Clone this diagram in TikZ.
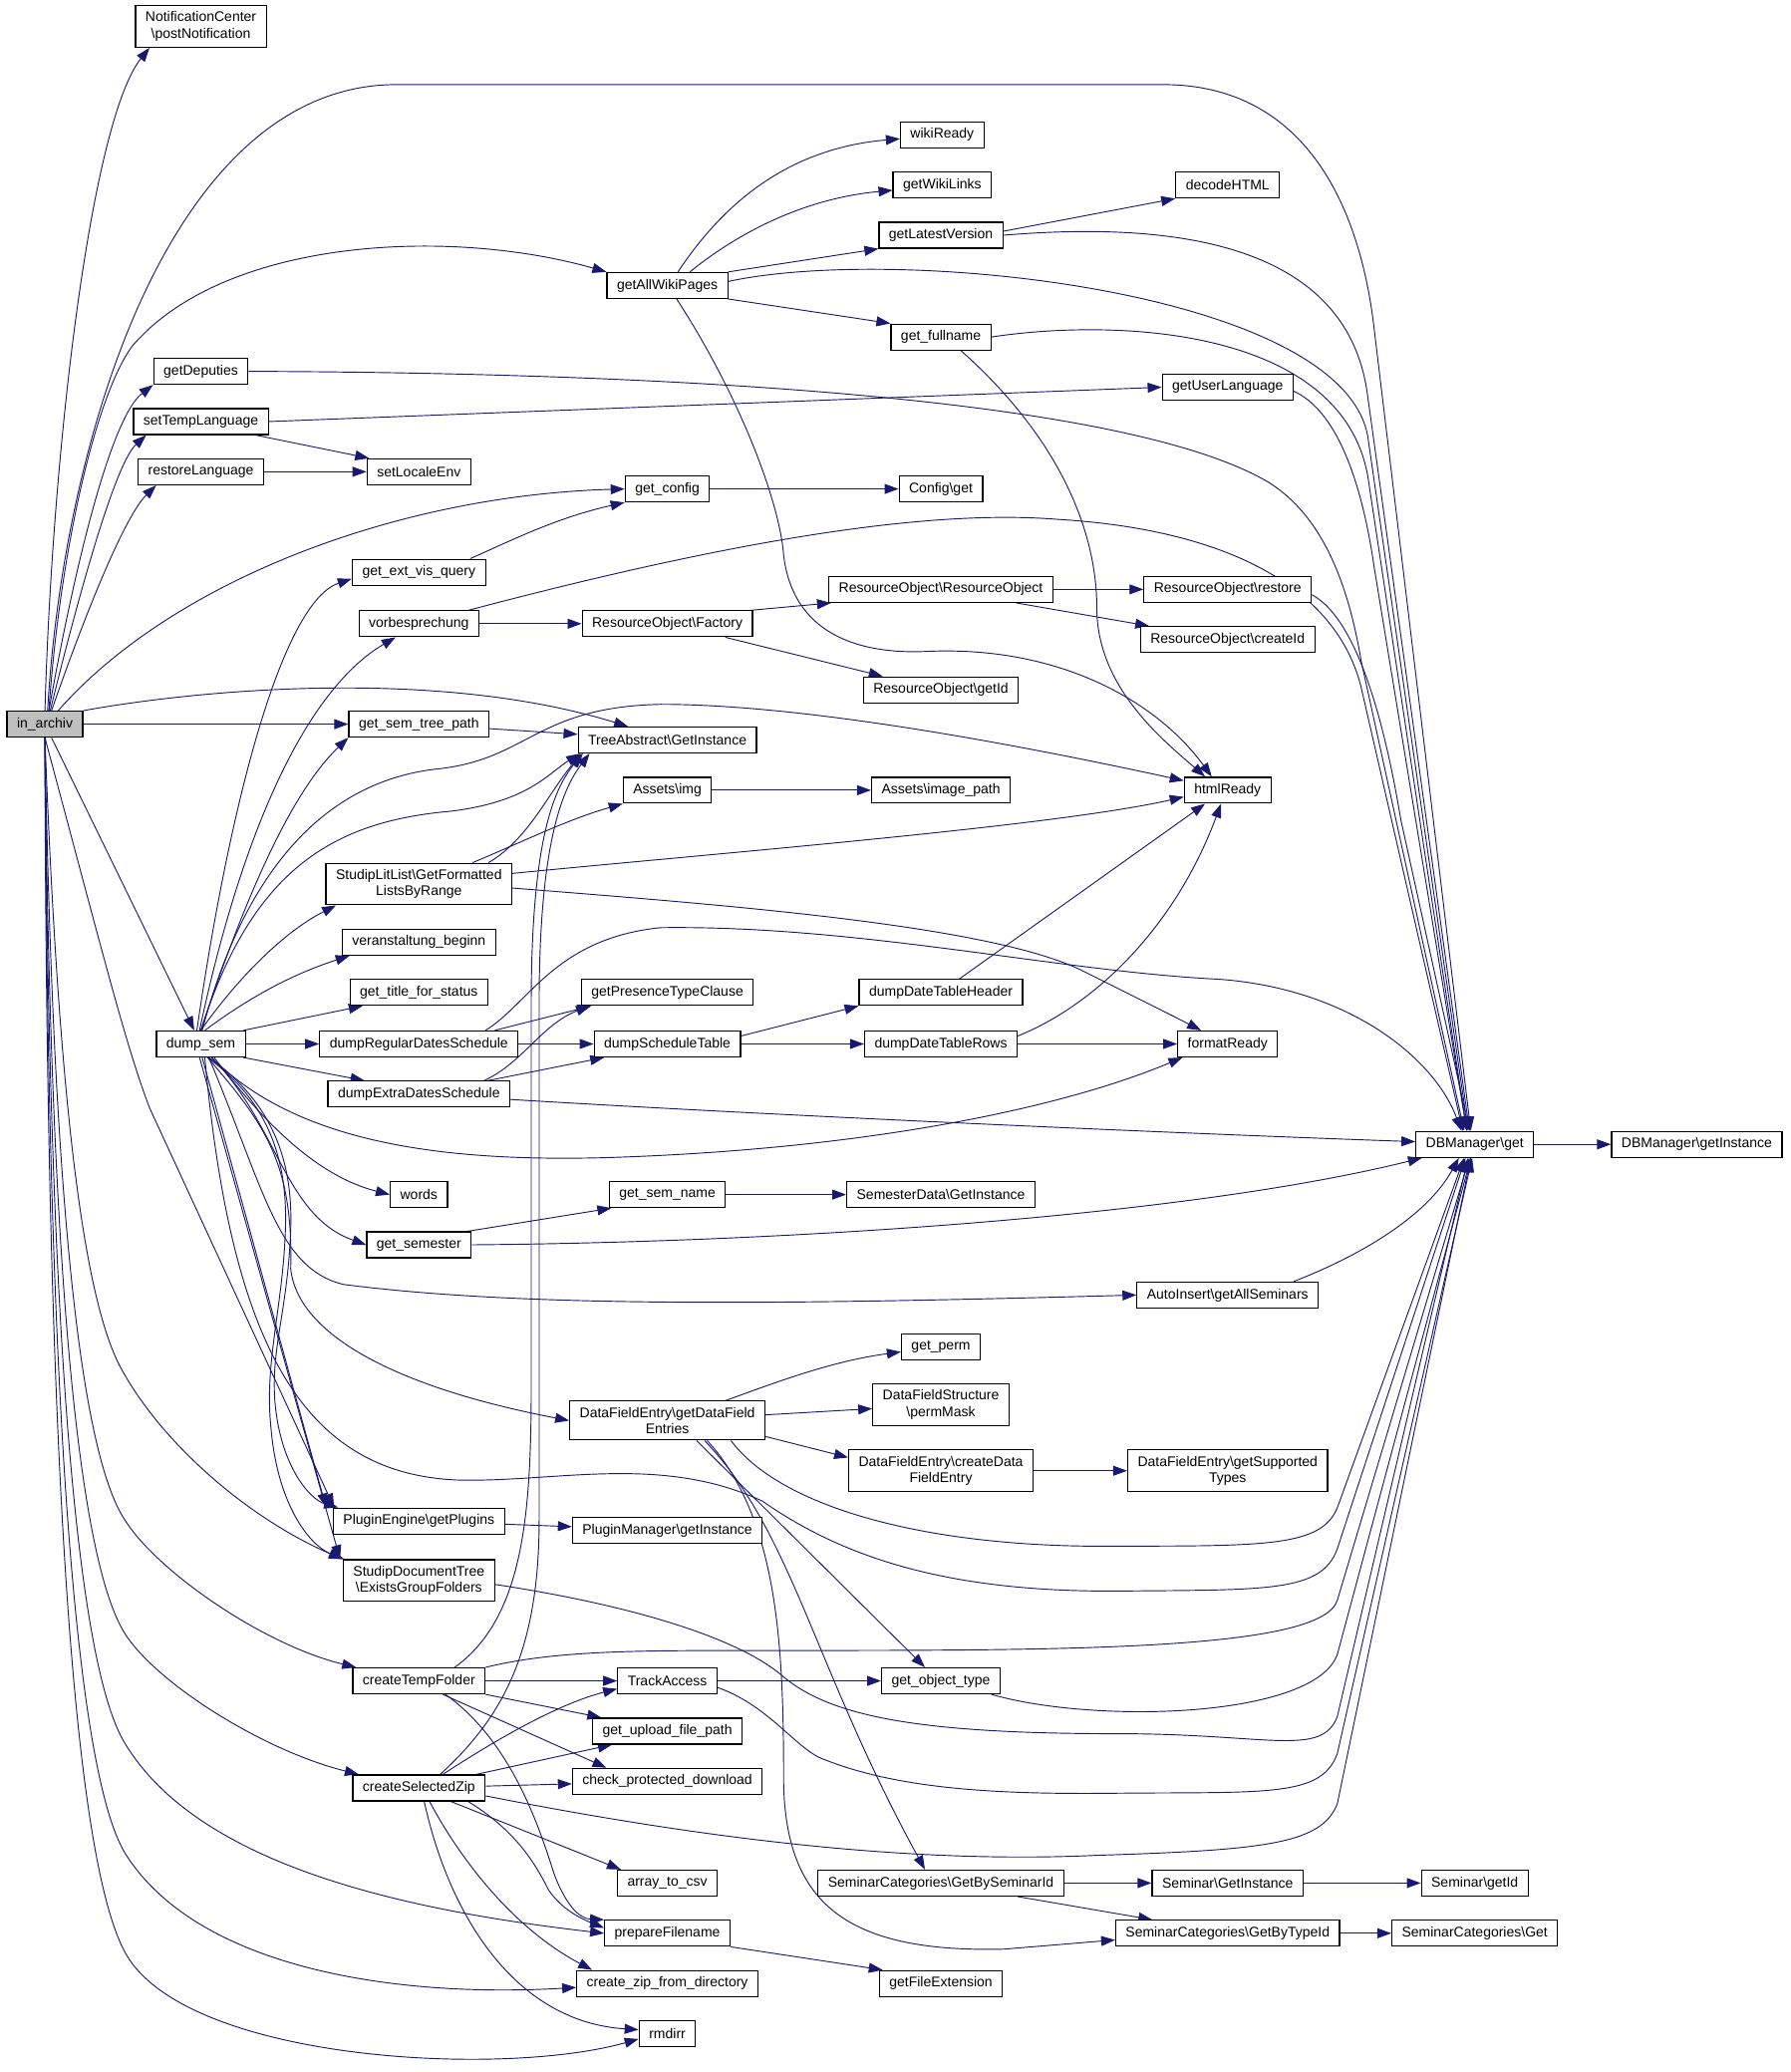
\documentclass[tikz,border=0pt]{standalone}
\usepackage{fontspec}
\setmainfont{Liberation Sans}
\usepackage{tikz}
\usetikzlibrary{arrows.meta,backgrounds}
\newcommand{\nsep}{\textbackslash}
\definecolor{callblue}{RGB}{25,25,112}
\definecolor{rootgray}{RGB}{191,191,191}
\tikzset{
  func/.style={draw=black, fill=white, rectangle, line width=0.9pt, inner xsep=7.5pt,
               inner ysep=4.5pt, minimum height=19.5pt, align=center,
               font=\fontsize{10.5}{12.5}\selectfont},
  rootfunc/.style={func, fill=rootgray},
  call/.style={draw=callblue, line width=0.7pt, -{Triangle[length=10.5pt, width=7.5pt]}},
}

\begin{document}
\begin{tikzpicture}[x=0.99465pt, y=-0.99465pt]
\useasboundingbox (0,0) rectangle (1355,1568);

% ============================ functions ===============================
\node[rootfunc] (inarchiv) at (34,548) {in\_archiv};
\node[func] (postnotif) at (152,20) {NotificationCenter\\\nsep postNotification};
\node[func] (wikiready) at (713,102) {wikiReady};
\node[func] (wikilinks) at (713,140) {getWikiLinks};
\node[func] (decodehtml) at (929,140) {decodeHTML};
\node[func] (latestver) at (712,178) {getLatestVersion};
\node[func] (wikipages) at (505,216) {getAllWikiPages};
\node[func] (fullname) at (712,255) {get\_fullname};
\node[func] (getdeputies) at (152,281) {getDeputies};
\node[func] (userlang) at (929,293) {getUserLanguage};
\node[func] (settemplang) at (152,319) {setTempLanguage};
\node[func] (restorelang) at (152,357) {restoreLanguage};
\node[func] (localeenv) at (317,357) {setLocaleEnv};
\node[func] (getconfig) at (505,370) {get\_config};
\node[func] (configget) at (712,370) {Config\nsep get};
\node[func] (extvis) at (317,433) {get\_ext\_vis\_query};
\node[func] (roobject) at (712,446) {ResourceObject\nsep ResourceObject};
\node[func] (rorestore) at (929,446) {ResourceObject\nsep restore};
\node[func] (vorbespr) at (317,472) {vorbesprechung};
\node[func] (rofactory) at (505,472) {ResourceObject\nsep Factory};
\node[func] (rocreate) at (929,484) {ResourceObject\nsep createId};
\node[func] (rogetid) at (712,522) {ResourceObject\nsep getId};
\node[func] (semtreepath) at (317,548) {get\_sem\_tree\_path};
\node[func] (treeinst) at (505,560) {TreeAbstract\nsep GetInstance};
\node[func] (assetsimg) at (505,598) {Assets\nsep img};
\node[func] (imagepath) at (712,598) {Assets\nsep image\_path};
\node[func] (htmlready) at (929,598) {htmlReady};
\node[func] (litlist) at (317,669) {StudipLitList\nsep GetFormatted\\ListsByRange};
\node[func] (vabeginn) at (317,713) {veranstaltung\_beginn};
\node[func] (titlestatus) at (317,751) {get\_title\_for\_status};
\node[func] (presence) at (505,751) {getPresenceTypeClause};
\node[func] (datehead) at (712,751) {dumpDateTableHeader};
\node[func] (dumpsem) at (152,790) {dump\_sem};
\node[func] (regdates) at (317,790) {dumpRegularDatesSchedule};
\node[func] (schedtable) at (505,790) {dumpScheduleTable};
\node[func] (daterows) at (712,790) {dumpDateTableRows};
\node[func] (formatready) at (929,790) {formatReady};
\node[func] (extradates) at (317,828) {dumpExtraDatesSchedule};
\node[func] (dbget) at (1116,866) {DBManager\nsep get};
\node[func] (dbinstance) at (1284,866) {DBManager\nsep getInstance};
\node[func] (words) at (317,904) {words};
\node[func] (semname) at (505,904) {get\_sem\_name};
\node[func] (semdata) at (712,904) {SemesterData\nsep GetInstance};
\node[func] (getsemester) at (317,942) {get\_semester};
\node[func] (autoinsert) at (929,980) {AutoInsert\nsep getAllSeminars};
\node[func] (getperm) at (712,1019) {get\_perm};
\node[func] (permmask) at (712,1063) {DataFieldStructure\\\nsep permMask};
\node[func] (datafield) at (505,1075) {DataFieldEntry\nsep getDataField\\Entries};
\node[func] (createentry) at (712,1113) {DataFieldEntry\nsep createData\\FieldEntry};
\node[func] (supportedtypes) at (929,1113) {DataFieldEntry\nsep getSupported\\Types};
\node[func] (plugins) at (317,1151) {PluginEngine\nsep getPlugins};
\node[func] (pluginmgr) at (505,1158) {PluginManager\nsep getInstance};
\node[func] (doctree) at (317,1196) {StudipDocumentTree\\\nsep ExistsGroupFolders};
\node[func] (tempfolder) at (317,1272) {createTempFolder};
\node[func] (trackaccess) at (505,1272) {TrackAccess};
\node[func] (objtype) at (712,1272) {get\_object\_type};
\node[func] (uploadpath) at (505,1310) {get\_upload\_file\_path};
\node[func] (selzip) at (317,1353) {createSelectedZip};
\node[func] (protected) at (505,1348) {check\_protected\_download};
\node[func] (arraycsv) at (505,1425) {array\_to\_csv};
\node[func] (bysemid) at (712,1425) {SeminarCategories\nsep GetBySeminarId};
\node[func] (seminst) at (929,1425) {Seminar\nsep GetInstance};
\node[func] (semid) at (1116,1425) {Seminar\nsep getId};
\node[func] (preparefn) at (505,1463) {prepareFilename};
\node[func] (bytypeid) at (929,1463) {SeminarCategories\nsep GetByTypeId};
\node[func] (semcatget) at (1116,1463) {SeminarCategories\nsep Get};
\node[func] (zipdir) at (505,1501) {create\_zip\_from\_directory};
\node[func] (fileext) at (712,1501) {getFileExtension};
\node[func] (rmdirr) at (505,1539) {rmdirr};

\begin{scope}[on background layer]
% ============================ in_archiv ===============================
\draw[call] (inarchiv.north) .. controls (40,330) and (70,90) .. ([xshift=11pt]postnotif.south west);
\draw[call] ([xshift=2pt]inarchiv.north) .. controls (48,330) and (130,64) .. (300,64) -- (880,64)
  .. controls (990,64) and (1030,160) .. (1040,250) -- ([xshift=-3pt]dbget.north);
\draw[call] ([xshift=3pt]inarchiv.north) .. controls (45,420) and (72,300) .. (100,262)
  .. controls (170,180) and (340,172) .. (wikipages.north west);
\draw[call] ([xshift=3pt]inarchiv.north) .. controls (58,420) and (85,315) .. (getdeputies.south west);
\draw[call] ([xshift=4pt]inarchiv.north) .. controls (62,440) and (88,350) .. ([xshift=10pt]settemplang.south west);
\draw[call] ([xshift=5pt]inarchiv.north) .. controls (66,460) and (95,390) .. ([xshift=14pt]restorelang.south west);
\draw[call] ([xshift=10pt]inarchiv.north) .. controls (130,440) and (300,375) .. (getconfig.west);
\draw[call] (inarchiv.north east) .. controls (150,522) and (330,505) .. ([xshift=38pt]treeinst.north west);
\draw[call] (inarchiv) -- (semtreepath);
\draw[call] (inarchiv) -- (dumpsem);
% downward fan, each bending at a knee near x=95
\draw[call] (inarchiv.south) .. controls (80,730) and (95,790) .. (113,838) -- ([xshift=1pt]plugins.north west);
\draw[call] (inarchiv.south) .. controls (45,850) and (65,990) .. (93,1038)
  .. controls (125,1095) and (190,1150) .. (doctree.north west);
\draw[call] (inarchiv.south) .. controls (40,900) and (60,1100) .. (95,1151)
  .. controls (120,1190) and (200,1245) .. ([xshift=3pt]tempfolder.north west);
\draw[call] (inarchiv.south) .. controls (38,950) and (58,1180) .. (95,1237)
  .. controls (120,1275) and (200,1325) .. ([xshift=5pt]selzip.north west);
\draw[call] (inarchiv.south) .. controls (37,1000) and (57,1260) .. (95,1320)
  .. controls (150,1410) and (300,1445) .. (preparefn.west);
\draw[call] (inarchiv.south) .. controls (36,1050) and (56,1340) .. (95,1403)
  .. controls (150,1490) and (300,1512) .. ([yshift=-3pt]zipdir.west);
\draw[call] (inarchiv.south) .. controls (35,1100) and (55,1420) .. (98,1483)
  .. controls (150,1560) and (380,1572) .. ([yshift=-4pt]rmdirr.west);

% ============================ dump_sem ================================
\draw[call] ([xshift=-3pt]dumpsem.north) .. controls (175,600) and (215,455) .. ([yshift=-5pt]extvis.west);
\draw[call] ([xshift=-1pt]dumpsem.north) .. controls (185,620) and (235,520) .. ([xshift=28pt]vorbespr.south west);
\draw[call] (dumpsem.north) .. controls (185,680) and (220,600) .. (semtreepath.south west);
\draw[call] (dumpsem.north) .. controls (190,660) and (250,622) .. (340,614)
  .. controls (400,607) and (415,585) .. ([xshift=2pt]treeinst.south west);
\draw[call] ([xshift=1pt]dumpsem.north) .. controls (190,640) and (260,590) .. (330,582)
  .. controls (400,575) and (405,535) .. (500,533)
  .. controls (620,533) and (800,570) .. ([yshift=-3pt]htmlready.north west);
\draw[call] (dumpsem.north) .. controls (180,740) and (215,705) .. ([xshift=8pt]litlist.south west);
\draw[call] ([xshift=3pt]dumpsem.north) .. controls (195,750) and (228,735) .. ([xshift=6pt]vabeginn.south west);
\draw[call] ([xshift=-2pt]dumpsem.north east) -- ([xshift=10pt]titlestatus.south west);
\draw[call] (dumpsem) -- (regdates);
\draw[call] ([xshift=-2pt]dumpsem.south east) -- ([xshift=28pt]extradates.north west);
\draw[call] ([xshift=8pt]dumpsem.south) .. controls (220,860) and (320,880) .. (460,876)
  .. controls (650,870) and (800,840) .. ([xshift=4pt]formatready.south west);
\draw[call] ([xshift=10pt]dumpsem.south) .. controls (200,850) and (240,890) .. (words.west);
\draw[call] ([xshift=8pt]dumpsem.south) .. controls (210,850) and (215,920) .. (getsemester.west);
\draw[call] ([xshift=6pt]dumpsem.south) .. controls (200,900) and (210,960) .. (260,972)
  .. controls (400,990) and (600,987) .. (autoinsert.west);
\draw[call] ([xshift=5pt]dumpsem.south) .. controls (200,850) and (222,880) .. (220,960)
  .. controls (225,1010) and (300,1050) .. (datafield.west);
\draw[call] ([xshift=3pt]dumpsem.south) .. controls (175,1020) and (230,1115) .. (346,1120)
  .. controls (420,1122) and (500,1100) .. (577,1136)
  .. controls (640,1180) and (720,1205) .. (847,1204)
  .. controls (960,1203) and (1000,1205) .. (1012,1172) -- ([xshift=-7pt]dbget.south);
\draw[call] ([xshift=1pt]dumpsem.south) -- ([xshift=-5pt]plugins.north west);
\draw[call] ([xshift=-1pt]dumpsem.south) -- ([xshift=-2pt]doctree.north west);
% the two wavy routes through the bundle left of the tree lines
\draw[call] ([xshift=6pt]dumpsem.south) .. controls (200,830) and (222,870) .. (220,930)
  .. controls (218,990) and (205,1020) .. (208,1060)
  .. controls (212,1110) and (235,1135) .. ([xshift=4pt]plugins.north west);
\draw[call] ([xshift=5pt]dumpsem.south) .. controls (198,830) and (218,870) .. (216,930)
  .. controls (214,990) and (200,1030) .. (205,1080)
  .. controls (210,1140) and (235,1170) .. ([xshift=1pt]doctree.north west);

% ============================ wiki / language =========================
\draw[call] ([xshift=8pt]wikipages.north) .. controls (550,150) and (600,112) .. ([yshift=-3pt]wikiready.west);
\draw[call] ([xshift=17pt]wikipages.north) .. controls (560,175) and (610,150) .. ([yshift=-4pt]wikilinks.west);
\draw[call] (wikipages.north east) -- (latestver.south west);
\draw[call] ([yshift=3pt]wikipages.east) .. controls (680,185) and (1015,220) .. (1035,330) -- ([xshift=-5pt]dbget.north);
\draw[call] (wikipages.south east) -- (fullname.north west);
\draw[call] ([xshift=7pt]wikipages.south) .. controls (560,300) and (590,380) .. (593,420)
  .. controls (600,480) and (650,495) .. (700,493)
  .. controls (800,488) and (875,530) .. ([xshift=-12pt]htmlready.north);
\draw[call] ([yshift=3pt]latestver.east) -- (decodehtml.south west);
\draw[call] (latestver.east) .. controls (880,168) and (1020,180) .. (1035,300) -- ([xshift=-4pt]dbget.north);
\draw[call] (fullname.east) .. controls (850,240) and (1015,250) .. (1035,360) -- ([xshift=-6pt]dbget.north);
\draw[call] ([xshift=15pt]fullname.south) .. controls (800,330) and (830,400) .. (830,460)
  .. controls (830,520) and (880,560) .. ([xshift=-17pt]htmlready.north);
\draw[call] (getdeputies.east) .. controls (500,282) and (850,300) .. (960,365)
  .. controls (1000,390) and (1020,440) .. (1030,500) -- ([xshift=-8pt]dbget.north);
\draw[call] ([yshift=-3pt]userlang.east) .. controls (1010,310) and (1030,360) .. (1040,430) -- ([xshift=-6pt]dbget.north);
\draw[call] (settemplang.east) -- (userlang.west);
\draw[call] ([xshift=-10pt]settemplang.south east) -- ([xshift=2pt]localeenv.north west);
\draw[call] (restorelang) -- (localeenv);
\draw[call] (getconfig) -- (configget);
\draw[call] ([xshift=-12pt]extvis.north east) .. controls (385,410) and (420,392) .. (getconfig.south west);

% ============================ resources ===============================
\draw[call] ([xshift=-8pt]vorbespr.north east) .. controls (550,410) and (700,385) .. (800,393)
  .. controls (920,400) and (1010,440) .. (1030,520) -- ([xshift=-9pt]dbget.north);
\draw[call] (vorbespr) -- (rofactory);
\draw[call] ([xshift=-1pt]rofactory.north east) -- ([xshift=2pt]roobject.south west);
\draw[call] ([xshift=-21pt]rofactory.south east) -- ([xshift=15pt]rogetid.north west);
\draw[call] (roobject) -- (rorestore);
\draw[call] ([xshift=-28pt]roobject.south east) -- ([xshift=7pt]rocreate.north west);
\draw[call] ([yshift=-4pt]rorestore.east) .. controls (1030,470) and (1050,560) .. (1060,620) -- ([xshift=-4pt]dbget.north);

% ============================ lit lists / assets ======================
\draw[call] ([xshift=-18pt]litlist.north east) .. controls (400,635) and (415,600) .. ([xshift=3pt]treeinst.south west);
\draw[call] ([xshift=-30pt]litlist.north east) .. controls (400,635) and (430,620) .. (assetsimg.south west);
\draw[call] ([yshift=8pt]litlist.east) .. controls (550,645) and (800,625) .. ([yshift=-5pt]htmlready.west);
\draw[call] ([yshift=-3pt]litlist.east) .. controls (550,685) and (750,700) .. (820,735)
  .. controls (860,755) and (890,770) .. ([xshift=18pt]formatready.north west);
\draw[call] (assetsimg) -- (imagepath);
\draw[call] (semtreepath) -- (treeinst);

% ============================ schedules ===============================
\draw[call] ([xshift=-18pt]regdates.north east) -- ([xshift=8pt]presence.south west);
\draw[call] (regdates) -- (schedtable);
\draw[call] ([xshift=-25pt]regdates.north east) .. controls (400,760) and (420,710) .. (500,702)
  .. controls (650,700) and (800,735) .. (922,741)
  .. controls (1020,748) and (1085,800) .. ([xshift=-10pt]dbget.north);
\draw[call] ([xshift=-20pt]extradates.north east) .. controls (395,805) and (410,775) .. ([xshift=7pt]presence.south west);
\draw[call] ([xshift=-17pt]extradates.north east) -- ([xshift=8pt]schedtable.south west);
\draw[call] ([yshift=-4pt]extradates.east) .. controls (600,845) and (900,858) .. ([yshift=2pt]dbget.west);
\draw[call] ([yshift=6pt]schedtable.east) -- (datehead.south west);
\draw[call] (schedtable) -- (daterows);
\draw[call] ([xshift=-48pt]datehead.north east) -- ([xshift=-17pt]htmlready.south);
\draw[call] ([yshift=6pt]daterows.east) .. controls (830,760) and (890,700) .. ([xshift=-5pt]htmlready.south);
\draw[call] (daterows) -- (formatready);
\draw[call] (dbget) -- (dbinstance);

% ============================ semester ================================
\draw[call] ([xshift=-3pt]getsemester.north east) -- ([xshift=2pt]semname.south west);
\draw[call] (getsemester.east) .. controls (600,940) and (900,920) .. ([xshift=5pt]dbget.south west);
\draw[call] (semname) -- (semdata);
\draw[call] ([xshift=-19pt]autoinsert.north east) .. controls (1030,950) and (1080,920) .. ([xshift=-12pt]dbget.south);

% ============================ data fields =============================
\draw[call] ([xshift=-30pt]datafield.north east) .. controls (590,1045) and (630,1030) .. ([yshift=-4pt]getperm.west);
\draw[call] (datafield) -- (permmask);
\draw[call] ([yshift=-12pt]datafield.east) -- ([yshift=10pt]createentry.west);
\draw[call] (createentry) -- (supportedtypes);
\draw[call] ([xshift=-26pt]datafield.south east) .. controls (590,1140) and (700,1172) .. (847,1170)
  .. controls (960,1170) and (1000,1170) .. (1012,1141) -- ([xshift=-8pt]dbget.south);
\draw[call] ([xshift=22pt]datafield.south) -- ([xshift=-12pt]objtype.north);
\draw[call] ([xshift=28pt]datafield.south) .. controls (600,1160) and (615,1260) .. ([xshift=-12pt]bysemid.north);
\draw[call] ([xshift=30pt]datafield.south) .. controls (590,1150) and (593,1250) .. (593,1350)
  .. controls (595,1440) and (640,1478) .. (760,1475) -- ([yshift=-5pt]bytypeid.west);

% ============================ plugins / documents =====================
\draw[call] (plugins) -- (pluginmgr);
\draw[call] ([yshift=-3pt]doctree.east) .. controls (480,1215) and (560,1240) .. (593,1269)
  .. controls (630,1300) and (700,1312) .. (847,1312)
  .. controls (960,1312) and (1000,1330) .. (1012,1299) -- ([xshift=-5pt]dbget.south);

% ============================ temp folder / zip =======================
\draw[call] (tempfolder.north east) .. controls (420,1249) and (480,1249) .. (573,1249)
  .. controls (800,1249) and (1000,1250) .. (1012,1211) -- ([xshift=-4pt]dbget.south);
\draw[call] ([xshift=27pt]tempfolder.north) .. controls (395,1225) and (402,1150) .. (402,1050) -- (402,760)
  .. controls (402,640) and (418,598) .. ([xshift=4pt]treeinst.south west);
\draw[call] (tempfolder) -- (trackaccess);
\draw[call] (tempfolder.south east) -- ([xshift=7pt]uploadpath.north west);
\draw[call] ([xshift=18pt]tempfolder.south) -- ([xshift=26pt]protected.north west);
\draw[call] ([xshift=20pt]tempfolder.south) .. controls (390,1320) and (410,1390) .. (420,1420)
  .. controls (430,1445) and (440,1452) .. (preparefn.north west);
\draw[call] ([xshift=16pt]selzip.north) .. controls (380,1300) and (408,1250) .. (408,1150) -- (408,760)
  .. controls (408,640) and (425,598) .. ([xshift=9pt]treeinst.south west);
\draw[call] ([xshift=18pt]selzip.north) .. controls (370,1320) and (420,1290) .. ([yshift=-6pt]trackaccess.west);
\draw[call] ([xshift=-7pt]selzip.north east) -- ([xshift=15pt]uploadpath.south west);
\draw[call] (selzip) -- (protected);
\draw[call] ([yshift=-6pt]selzip.east) .. controls (550,1395) and (700,1410) .. (830,1404)
  .. controls (960,1400) and (1000,1395) .. (1012,1365) -- ([xshift=-3pt]dbget.south);
\draw[call] ([xshift=24pt]selzip.south) -- ([xshift=3pt]arraycsv.north west);
\draw[call] ([xshift=37pt]selzip.south) .. controls (390,1385) and (405,1410) .. (415,1430)
  .. controls (425,1445) and (440,1452) .. ([yshift=4pt]preparefn.west);
\draw[call] ([xshift=8pt]selzip.south) .. controls (350,1410) and (390,1460) .. ([xshift=12pt]zipdir.north west);
\draw[call] ([xshift=4pt]selzip.south) .. controls (340,1450) and (390,1530) .. ([yshift=3pt]rmdirr.west);
\draw[call] (trackaccess) -- (objtype);
\draw[call] ([yshift=-5pt]trackaccess.east) .. controls (580,1290) and (600,1320) .. (620,1330)
  .. controls (680,1355) and (760,1358) .. (847,1357)
  .. controls (960,1356) and (1000,1360) .. (1012,1327) -- ([xshift=-2pt]dbget.south);
\draw[call] ([xshift=-7pt]objtype.south east) .. controls (830,1305) and (995,1300) .. (1012,1252) -- ([xshift=-3pt]dbget.south);

% ============================ seminar categories ======================
\draw[call] (bysemid) -- (seminst);
\draw[call] (seminst) -- (semid);
\draw[call] ([xshift=-35pt]bysemid.south east) -- ([xshift=28pt]bytypeid.north west);
\draw[call] (bytypeid) -- (semcatget);
\draw[call] (preparefn.south east) -- ([xshift=3pt]fileext.north west);
\end{scope}

\end{tikzpicture}
\end{document}
